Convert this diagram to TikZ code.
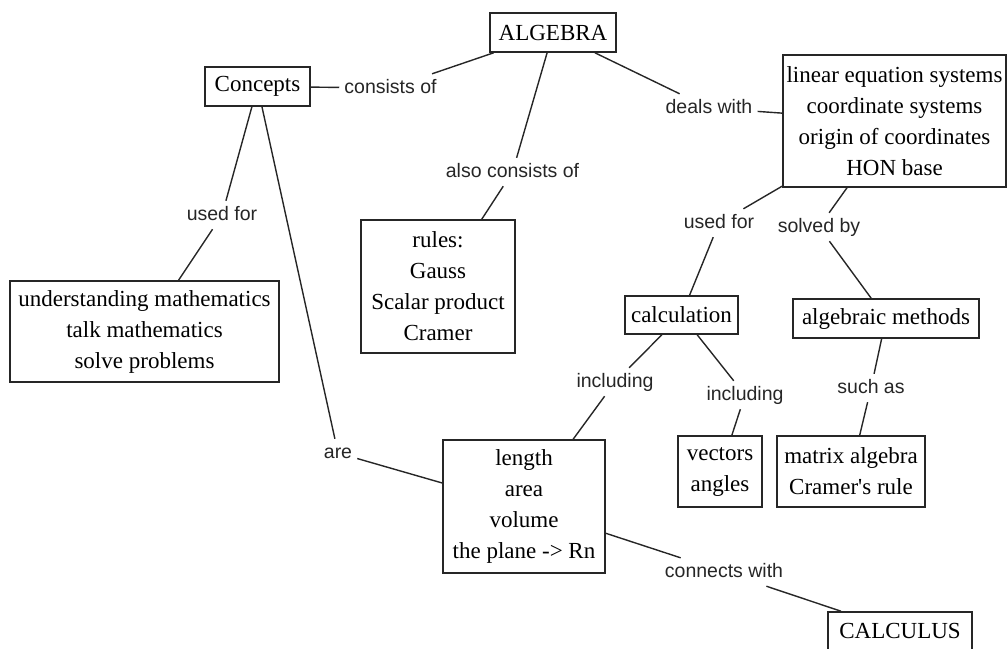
\documentclass[tikz,border=0pt]{standalone}
\usepackage{fontspec}
\setmainfont{Liberation Serif}[Ligatures=TeXOff]
\newfontfamily\labelfont{Liberation Sans}
\begin{document}
\begin{tikzpicture}[x=1pt,y=-1pt]
\tikzset{
  box/.style={draw=black!85, line width=1.6pt, align=center,
    font=\fontsize{23}{31}\selectfont, inner sep=2pt},
  lab/.style={font=\labelfont\fontsize{19.5}{22}\selectfont, text=black!85,
    inner xsep=5pt, inner ysep=5pt, text height=14pt, text depth=4pt},
  conn/.style={draw=black!85, line width=1.4pt}
}
\useasboundingbox (0,0) rectangle (1008,648);

% boxes
\node[box, minimum width=126pt, minimum height=39pt] (algebra) at (553,32.5) {ALGEBRA};
\node[box, minimum width=105pt, minimum height=39pt] (concepts) at (257.5,86.5) {Concepts};
\node[box, minimum width=223pt, minimum height=132pt] (deals) at (894.5,121)
  {linear equation systems\\coordinate systems\\origin of coordinates\\HON base};
\node[box, minimum width=154pt, minimum height=133pt] (rules) at (438,286.5)
  {rules:\\Gauss\\Scalar product\\Cramer};
\node[box, minimum width=269pt, minimum height=101pt] (underst) at (144.5,331.5)
  {understanding mathematics\\talk mathematics\\solve problems};
\node[box, minimum width=113pt, minimum height=38pt] (calc) at (681.5,315) {calculation};
\node[box, minimum width=186pt, minimum height=39pt] (algm) at (886,318.5) {algebraic methods};
\node[box, minimum width=162pt, minimum height=133pt] (length) at (524,506.5)
  {length\\area\\volume\\the plane -> Rn};
\node[box, minimum width=84pt, minimum height=71pt] (vectors) at (720,471.5) {vectors\\angles};
\node[box, minimum width=148pt, minimum height=71pt] (matrix) at (851,471.5) {matrix algebra\\Cramer's rule};
\node[box, minimum width=144pt, minimum height=38pt] (calculus) at (900,631) {CALCULUS};

% labels
\node[lab] (lconsists) at (390.5,88) {consists of};
\node[lab] (lalso) at (512.5,172) {also consists of};
\node[lab] (ldeals) at (709,108) {deals with};
\node[lab] (lusedL) at (222,215) {used for};
\node[lab] (lare) at (338,453) {are};
\node[lab] (lusedR) at (719,223) {used for};
\node[lab] (lsolved) at (819,227) {solved by};
\node[lab] (linclL) at (615,382) {including};
\node[lab] (linclR) at (745,395) {including};
\node[lab] (lsuch) at (871,388) {such as};
\node[lab] (lconn) at (724,572) {connects with};

% connectors
\draw[conn] (concepts) -- (lconsists);
\draw[conn] (lconsists) -- (algebra);
\draw[conn] (algebra) -- (lalso);
\draw[conn] (lalso) -- (rules);
\draw[conn] (algebra) -- (ldeals);
\draw[conn] (ldeals) -- (deals);
\draw[conn] (concepts) -- (lusedL);
\draw[conn] (lusedL) -- (underst);
\draw[conn] (concepts) -- (lare);
\draw[conn] (lare) -- (length);
\draw[conn] (deals) -- (lusedR);
\draw[conn] (lusedR) -- (calc);
\draw[conn] (deals) -- (lsolved);
\draw[conn] (lsolved) -- (algm);
\draw[conn] (calc) -- (linclL);
\draw[conn] (linclL) -- (length);
\draw[conn] (calc) -- (linclR);
\draw[conn] (linclR) -- (vectors);
\draw[conn] (algm) -- (lsuch);
\draw[conn] (lsuch) -- (matrix);
\draw[conn] (length) -- (lconn);
\draw[conn] (lconn) -- (calculus);
\end{tikzpicture}
\end{document}
